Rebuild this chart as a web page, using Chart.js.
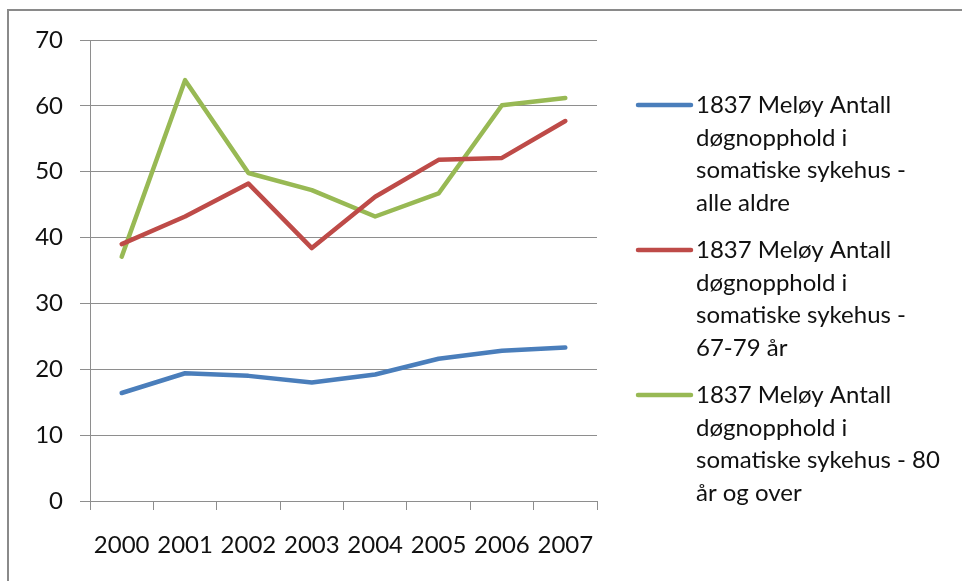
<!DOCTYPE html>
<html>
<head>
<meta charset="utf-8">
<script src="https://cdn.jsdelivr.net/npm/chart.js@4"></script>
<style>
  html, body { margin: 0; padding: 0; background: #ffffff; }
  #wrap { position: relative; width: 962px; height: 581px; overflow: hidden; }
  #frame { position: absolute; left: 7px; top: 9px; width: 1000px; height: 1000px;
           border-top: 2px solid #8a8a8a; border-left: 2px solid #8a8a8a; }
  canvas { position: absolute; left: 0; top: 0; }
</style>
</head>
<body>
<div id="wrap">
  <div id="frame"></div>
  <canvas id="c" width="962" height="581"></canvas>
</div>
<script>
const years = ['2000', '2001', '2002', '2003', '2004', '2005', '2006', '2007'];
const alleAldre = [16.4, 19.4, 19.0, 18.0, 19.2, 21.6, 22.8, 23.3];
const aar67til79 = [39.0, 43.2, 48.2, 38.4, 46.2, 51.8, 52.1, 57.7];
const aar80over = [37.1, 63.9, 49.8, 47.2, 43.2, 46.7, 60.1, 61.2];
const yTicks = [0, 10, 20, 30, 40, 50, 60, 70];
const seriesLabels = [
  ['1837 Meløy Antall', 'døgnopphold i', 'somatiske sykehus -', 'alle aldre'],
  ['1837 Meløy Antall', 'døgnopphold i', 'somatiske sykehus -', '67-79 år'],
  ['1837 Meløy Antall', 'døgnopphold i', 'somatiske sykehus - 80', 'år og over']
];
const seriesColors = ['#4a7ebb', '#be4b48', '#98b954'];

const FONT = 'Lato';
const FSIZE = 24;
const gridColor = '#8e8e8e';
const textColor = '#111111';

const legendPlugin = {
  id: 'sideLegend',
  afterDraw(chart) {
    const ctx = chart.ctx;
    ctx.save();
    ctx.font = FSIZE + 'px ' + FONT;
    ctx.fillStyle = textColor;
    ctx.textAlign = 'left';
    ctx.textBaseline = 'alphabetic';
    chart.data.datasets.forEach((ds, k) => {
      const lineY = 105 + 145 * k;
      ctx.strokeStyle = ds.borderColor;
      ctx.lineWidth = 4.5;
      ctx.lineCap = 'round';
      ctx.beginPath();
      ctx.moveTo(638, lineY);
      ctx.lineTo(691, lineY);
      ctx.stroke();
      ds.legendLines.forEach((t, i) => {
        ctx.fillText(t, 696, 113 + 32.5 * i + 145 * k);
      });
    });
    ctx.restore();
  }
};

new Chart(document.getElementById('c'), {
  type: 'line',
  data: {
    labels: years,
    datasets: [
      { label: seriesLabels[0].join(' '), legendLines: seriesLabels[0], data: alleAldre, borderColor: seriesColors[0] },
      { label: seriesLabels[1].join(' '), legendLines: seriesLabels[1], data: aar67til79, borderColor: seriesColors[1] },
      { label: seriesLabels[2].join(' '), legendLines: seriesLabels[2], data: aar80over, borderColor: seriesColors[2] }
    ].map(d => Object.assign(d, {
      borderWidth: 4.5, pointRadius: 0, pointHoverRadius: 0, tension: 0,
      borderJoinStyle: 'round', borderCapStyle: 'round', fill: false
    }))
  },
  options: {
    responsive: false,
    animation: false,
    devicePixelRatio: 1,
    layout: { padding: { left: 0, top: 40, right: 365, bottom: 0 } },
    plugins: { legend: { display: false }, tooltip: { enabled: false } },
    scales: {
      x: {
        type: 'category',
        offset: true,
        grid: { offset: true, drawOnChartArea: false, drawTicks: true, tickLength: 9, color: gridColor, lineWidth: 1 },
        border: { display: true, color: gridColor, width: 1 },
        ticks: { color: textColor, font: { family: FONT, size: FSIZE }, padding: 21, maxRotation: 0, autoSkip: false },
        afterFit(scale) { scale.height = 80; }
      },
      y: {
        min: 0, max: 70,
        afterBuildTicks(scale) { scale.ticks = yTicks.map(v => ({ value: v })); },
        grid: { drawTicks: true, tickLength: 10, color: gridColor, lineWidth: 1 },
        border: { display: true, color: gridColor, width: 1 },
        ticks: { color: textColor, font: { family: FONT, size: FSIZE }, padding: 17 },
        afterFit(scale) { scale.width = 90; }
      }
    }
  },
  plugins: [legendPlugin]
});
</script>
</body>
</html>
